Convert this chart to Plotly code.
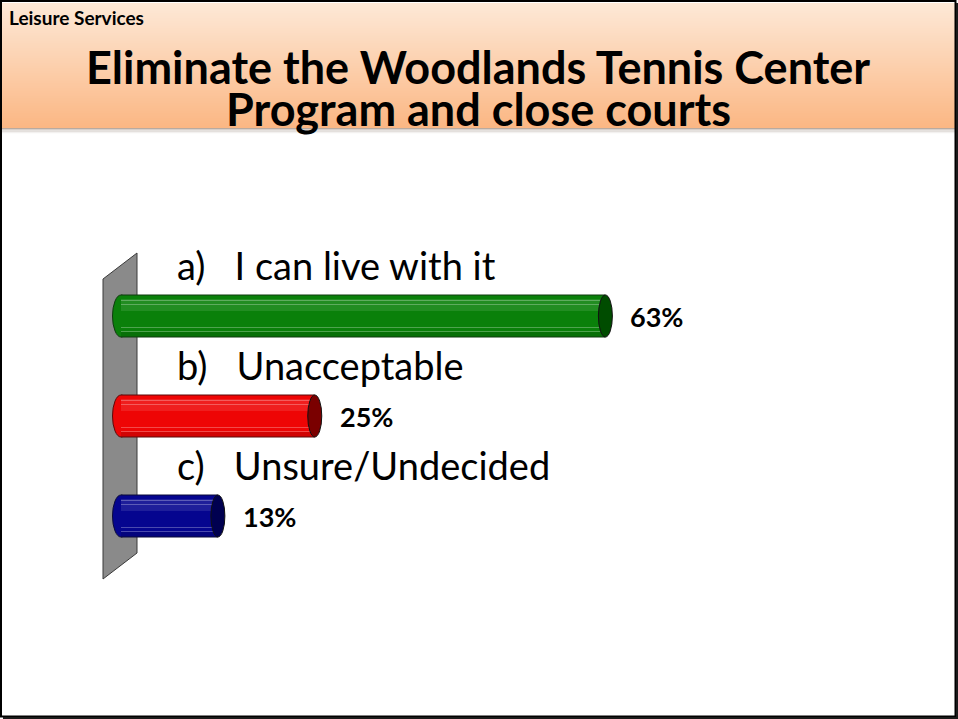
import plotly.graph_objects as go

# ---------------- data ----------------
categories = ["a)\u00a0\u00a0 I can live with it", "b)\u00a0\u00a0 Unacceptable", "c)\u00a0\u00a0 Unsure/Undecided"]
values = [62.5, 25, 12.5]
value_labels = ["63%", "25%", "13%"]
body_colors = ["#0a800a", "#ee0505", "#05058f"]
cap_colors = ["#004c00", "#7a0000", "#000050"]
edge_colors = ["#0f3a0f", "#5a0a0a", "#0a0a3a"]
title_lines = ["Eliminate the Woodlands Tennis Center", "Program and close courts"]
header_text = "Leisure Services"

# ---------------- layout constants ----------------
W, H = 958, 719
ZERO_PX = 121.0      # pixel where value 0 sits
PX_PER_UNIT = 7.75   # pixels per percentage point
ROW0_PX = 316.0      # pixel centre of first bar
ROW_STEP = 100.0     # pixels between bars
BAR_W = 0.42
FONT = "Lato"


def px(x):
    return x / W


def py(y):
    return 1 - y / H


xmin = -ZERO_PX / PX_PER_UNIT
xmax = xmin + W / PX_PER_UNIT
ytop = -ROW0_PX / ROW_STEP
ybot = ytop + H / ROW_STEP

idx = list(range(len(categories)))

fig = go.Figure()

# body of cylinders
fig.add_trace(go.Bar(
    y=idx, x=values, orientation="h", width=BAR_W,
    marker=dict(color=body_colors, line=dict(width=0)),
    hoverinfo="skip", showlegend=False,
))
# subtle highlight band near the top
fig.add_trace(go.Bar(
    y=idx, x=values, orientation="h", width=0.12, offset=-0.17,
    marker=dict(color="rgba(255,255,255,0.10)", line=dict(width=0)),
    hoverinfo="skip", showlegend=False,
))
# thin light stripes
for off in [-0.165, -0.12, 0.11, 0.15]:
    fig.add_trace(go.Bar(
        y=idx, x=values, orientation="h", width=0.012, offset=off,
        marker=dict(color="rgba(255,255,255,0.28)", line=dict(width=0)),
        hoverinfo="skip", showlegend=False,
    ))
# darker band at bottom
fig.add_trace(go.Bar(
    y=idx, x=values, orientation="h", width=0.05, offset=0.16,
    marker=dict(color="rgba(0,0,0,0.12)", line=dict(width=0)),
    hoverinfo="skip", showlegend=False,
))

shapes = []

# header gradient
top_c = (253, 232, 214)
bot_c = (251, 183, 132)
n = 50
y0h, y1h = 3, 128
for k in range(n):
    t = k / (n - 1)
    c = tuple(int(round(top_c[j] + (bot_c[j] - top_c[j]) * t)) for j in range(3))
    ya = y0h + (y1h - y0h) * k / n
    yb = y0h + (y1h - y0h) * (k + 1) / n
    shapes.append(dict(type="rect", xref="paper", yref="paper",
                       x0=px(2), x1=px(955), y0=py(ya), y1=py(yb + 0.6),
                       fillcolor="rgb(%d,%d,%d)" % c, line=dict(width=0), layer="below"))
# header shadow
for k, col in enumerate(["#b9aa9f", "#cfc6c0", "#e4e0dd", "#f3f1f0"]):
    shapes.append(dict(type="rect", xref="paper", yref="paper",
                       x0=px(2), x1=px(955), y0=py(128 + k * 1.3), y1=py(129.3 + k * 1.3),
                       fillcolor=col, line=dict(width=0), layer="below"))

# back wall
wall_path = "M {} {} L {} {} L {} {} L {} {} Z".format(
    px(103), py(279), px(137), py(253), px(137), py(553), px(103), py(579))
shapes.append(dict(type="path", xref="paper", yref="paper", path=wall_path,
                   fillcolor="#8a8a8a", line=dict(color="#3a3a3a", width=1), layer="below"))

cap_l = 8.5 / PX_PER_UNIT
cap_r = 7.0 / PX_PER_UNIT
for i, v in enumerate(values):
    # left rounded end (right half hidden by the bar body)
    shapes.append(dict(type="circle", xref="x", yref="y",
                       x0=-cap_l, x1=cap_l, y0=i - BAR_W / 2, y1=i + BAR_W / 2,
                       fillcolor=body_colors[i], line=dict(color=edge_colors[i], width=1),
                       layer="below"))
    # top / bottom outline
    for s in (-1, 1):
        shapes.append(dict(type="line", xref="x", yref="y",
                           x0=0, x1=v, y0=i + s * BAR_W / 2, y1=i + s * BAR_W / 2,
                           line=dict(color=edge_colors[i], width=1), layer="above"))
    # right end cap
    shapes.append(dict(type="circle", xref="x", yref="y",
                       x0=v - cap_r, x1=v + cap_r, y0=i - BAR_W / 2, y1=i + BAR_W / 2,
                       fillcolor=cap_colors[i], line=dict(color="#111111", width=1),
                       layer="above"))

# slide border
shapes.append(dict(type="rect", xref="paper", yref="paper",
                   x0=px(1), x1=px(955.5), y0=py(1), y1=py(716.5),
                   line=dict(color="#000000", width=2), fillcolor="rgba(0,0,0,0)", layer="above"))
shapes.append(dict(type="line", xref="paper", yref="paper",
                   x0=px(957), x1=px(957), y0=py(3), y1=py(719),
                   line=dict(color="#1a1a1a", width=2), layer="above"))
shapes.append(dict(type="line", xref="paper", yref="paper",
                   x0=px(3), x1=px(958), y0=py(718), y1=py(718),
                   line=dict(color="#1a1a1a", width=2), layer="above"))

annotations = []
annotations.append(dict(text="<b>%s</b>" % header_text, xref="paper", yref="paper",
                        x=px(7), y=py(18), xanchor="left", yanchor="middle", showarrow=False,
                        font=dict(family=FONT, size=19, color="#000000")))
for j, (line, yc) in enumerate(zip(title_lines, [67, 109])):
    annotations.append(dict(text="<b>%s</b>" % line, xref="paper", yref="paper",
                            x=px(478), y=py(yc), xanchor="center", yanchor="middle",
                            showarrow=False,
                            font=dict(family=FONT, size=45, color="#000000")))
for i, (cat, v, lab) in enumerate(zip(categories, values, value_labels)):
    annotations.append(dict(text=cat, xref="paper", yref="y", x=px(175), y=i,
                            yshift=51, xanchor="left", yanchor="middle", showarrow=False,
                            font=dict(family=FONT, size=38, color="#000000")))
    annotations.append(dict(text="<b>%s</b>" % lab, xref="x", yref="y", x=v, y=i,
                            xshift=23, yshift=0, xanchor="left", yanchor="middle",
                            showarrow=False,
                            font=dict(family=FONT, size=27, color="#000000")))

fig.update_layout(
    width=W, height=H,
    margin=dict(l=0, r=0, t=0, b=0),
    paper_bgcolor="#ffffff", plot_bgcolor="rgba(0,0,0,0)",
    barmode="overlay", bargap=0,
    showlegend=False,
    xaxis=dict(range=[xmin, xmax], visible=False, fixedrange=True),
    yaxis=dict(range=[ybot, ytop], visible=False, fixedrange=True),
    shapes=shapes, annotations=annotations,
)

fig.write_html(
    "out.html",
    config={"displayModeBar": False},
    post_script="document.body.style.margin='0px';document.body.style.padding='0px';",
)
